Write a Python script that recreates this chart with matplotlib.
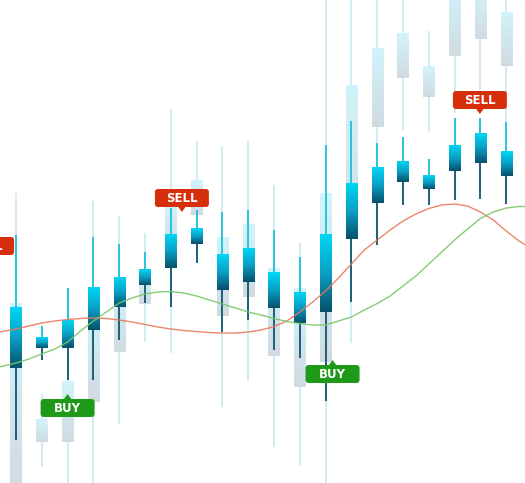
#==========================================================================
# Candlestick sketch with ghost candles, two moving averages, buy/sell tags
#==========================================================================
import numpy as np
import matplotlib
matplotlib.use("Agg")
import matplotlib.pyplot as plt
from matplotlib.colors import LinearSegmentedColormap
from matplotlib.patches import FancyBboxPatch, Polygon
from matplotlib.transforms import IdentityTransform

#%%
#==========================================================================
# Data (price units)
#==========================================================================
candle = np.arange(20)

# main candles
high      = [248, 157, 195, 246, 239, 231, 275, 273, 271, 273, 253, 226, 338, 362, 340, 346, 324, 365, 365, 361]
low       = [ 43, 123, 103, 103, 143, 180, 176, 220, 151, 163, 133, 125,  82, 181, 238, 278, 278, 283, 284, 279]
body_top  = [176, 146, 163, 196, 206, 214, 249, 255, 229, 235, 211, 191, 249, 300, 316, 322, 308, 338, 350, 332]
body_bot  = [115, 135, 135, 153, 176, 198, 215, 239, 193, 201, 175, 160, 171, 244, 280, 301, 294, 312, 320, 307]

# faded "ghost" candles behind
ghost_high = [290,  90, 130, 282, 267, 250, 374, 342, 337, 342, 298, 240, 490, 490, 490, 490, 452, 500, 500, 490]
ghost_low  = [-10,  16, -10, -10,  59, 141, 130, 225,  76, 102,  36,  18, -10, 140, 340, 353, 351, 370, 370, 361]
ghost_top  = [180,  64, 102, 175, 200, 210, 283, 303, 246, 259, 215, 195, 290, 398, 435, 450, 417, 495, 495, 471]
ghost_bot  = [-10,  41,  41,  81, 131, 179, 225, 268, 167, 186, 127,  96, 121, 245, 356, 405, 386, 427, 444, 417]

# moving averages
ma_x = [-0.65] + list(np.arange(0, 20, 0.5)) + [19.75]
ma_red = [151, 154, 157, 160, 162, 163.5, 164.5, 165, 164.5, 163, 161, 158.5, 156, 154, 152.5, 151.5,
          150.5, 150, 150, 151, 153, 156.5, 162, 171, 181, 192, 205, 219, 233, 243, 253, 262, 269,
          274.5, 278, 279, 277, 271, 263, 252, 242, 238]
ma_green = [116, 120, 124, 129, 134, 141, 152, 162, 171, 180, 185, 189, 191, 191.5, 190, 187, 183,
            179, 175, 171, 168, 164.5, 161.5, 159.5, 158, 158, 162, 166, 173, 179.5, 187, 197, 207,
            219, 231, 243, 254, 264.5, 271, 275, 276.5, 276.5]

# signal tags
label_text = ["SELL", "BUY", "SELL", "BUY", "SELL"]
label_x    = [-1.12, 2.0, 6.43, 12.27, 17.98]
label_tip  = [223, 89, 271, 123, 369]

#%%
#==========================================================================
# Plot
#==========================================================================
fig = plt.figure(figsize=(5.25, 4.83), dpi=100)
ax = fig.add_axes([0, 0, 1, 1])
ax.set_axis_off()
ax.set_xlim(-16 / 25.8, (525 - 16) / 25.8)
ax.set_ylim(0, 483)

w = 0.43
grad = np.linspace(0, 1, 64).reshape(-1, 1)
main_cmap = LinearSegmentedColormap.from_list("main", ["#00d6f4", "#0a9fc4", "#07506b"])
ghost_cmap = LinearSegmentedColormap.from_list("ghost", ["#d2f3fb", "#d0dbe1"])

# ghost candles
ax.vlines(candle, ghost_low, ghost_high, color="#cdebf2", lw=1.3, zorder=1)
for i in candle:
    ax.imshow(grad, cmap=ghost_cmap, aspect="auto", interpolation="bilinear",
              extent=[i - w / 2, i + w / 2, ghost_bot[i], ghost_top[i]], zorder=2)

# main candles
ax.vlines(candle, body_top, high, color="#27c4de", lw=1.4, zorder=3)
ax.vlines(candle, low, body_bot, color="#1b6078", lw=1.4, zorder=3)
for i in candle:
    ax.imshow(grad, cmap=main_cmap, aspect="auto", interpolation="bilinear",
              extent=[i - w / 2, i + w / 2, body_bot[i], body_top[i]], zorder=4)

# moving averages
ax.plot(ma_x, ma_red, color="#e8795c", lw=1.0, alpha=0.9, zorder=5)
ax.plot(ma_x, ma_green, color="#78c768", lw=1.0, alpha=0.9, zorder=5)

ax.set_xlim(-16 / 25.8, (525 - 16) / 25.8)
ax.set_ylim(0, 483)

# buy / sell tags drawn in pixel space
pix = IdentityTransform()
for txt, lx, ly in zip(label_text, label_x, label_tip):
    px, py = ax.transData.transform((lx, ly))
    col = "#d72f0c" if txt == "SELL" else "#1f9a18"
    if txt == "SELL":
        y0, tri = py + 5, [(px - 4, py + 5.5), (px + 4, py + 5.5), (px, py)]
    else:
        y0, tri = py - 23, [(px - 4, py - 5.5), (px + 4, py - 5.5), (px, py)]
    ax.add_patch(FancyBboxPatch((px - 27, y0), 54, 18, boxstyle="round,pad=0,rounding_size=3",
                                fc=col, ec="none", transform=pix, zorder=6))
    ax.add_patch(Polygon(tri, closed=True, fc=col, ec="none", transform=pix, zorder=6))
    ax.text(px, y0 + 9, txt, color="white", fontsize=8.5, fontweight="bold",
            ha="center", va="center", transform=pix, zorder=7)

fig.savefig("out.png", dpi=100)
